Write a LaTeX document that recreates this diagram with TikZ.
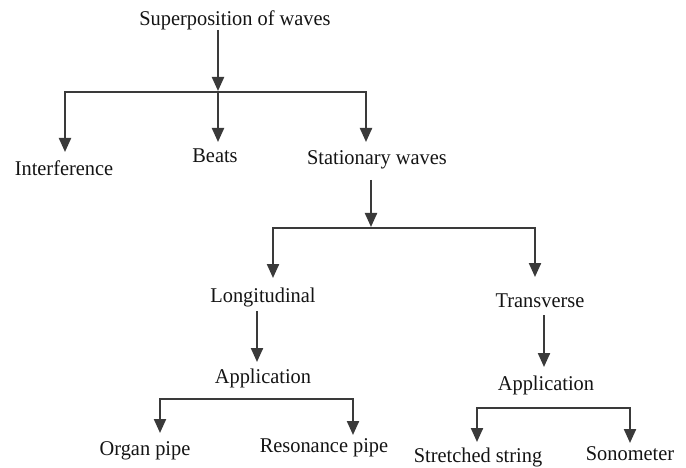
\documentclass[tikz,border=0pt]{standalone}
\usepackage{fontspec}
\setmainfont[FakeStretch=0.97]{Liberation Serif}
\usetikzlibrary{arrows.meta}
\definecolor{ink}{HTML}{141414}
\definecolor{linec}{HTML}{3A3A3A}
\tikzset{
  lbl/.style={anchor=base, inner sep=0pt, text=ink, font=\fontsize{21}{25}\selectfont},
  conn/.style={draw=linec, line width=2.2pt, line join=miter},
  tip/.style={-{Triangle[length=14pt,width=12pt]}},
  twotip/.style={{Triangle[length=14pt,width=12pt]}-{Triangle[length=14pt,width=12pt]}}
}
\begin{document}
\begin{tikzpicture}[x=1pt,y=-1pt]
\useasboundingbox (0,0) rectangle (686,468);
% nodes
\node[lbl] (sup) at (235,26) {Superposition of waves};
\node[lbl] (inter) at (64,176) {Interference};
\node[lbl] (beats) at (215,163) {Beats};
\node[lbl] (stat) at (377,165) {Stationary waves};
\node[lbl] (longi) at (263,302) {Longitudinal};
\node[lbl] (trans) at (540,307) {Transverse};
\node[lbl] (appl) at (263,383) {Application};
\node[lbl] (appr) at (546,390) {Application};
\node[lbl] (organ) at (145,455) {Organ pipe};
\node[lbl] (reson) at (324,452) {Resonance pipe};
\node[lbl] (stretch) at (478,462.5) {Stretched string};
\node[lbl] (sono) at (630,460) {Sonometer};
% junction and tip coordinates
\coordinate (s1) at (218,30);  \coordinate (j1) at (218,91);
\coordinate (b1a) at (65,92);  \coordinate (b1b) at (218,92); \coordinate (b1c) at (366,92);
\coordinate (t1a) at (65,152); \coordinate (t1b) at (218,142); \coordinate (t1c) at (366,142);
\coordinate (s2) at (371,180); \coordinate (j2) at (371,227);
\coordinate (b2a) at (273,228); \coordinate (b2c) at (535,228);
\coordinate (t2a) at (273,278); \coordinate (t2c) at (535,277);
\coordinate (s3) at (257,311); \coordinate (j3) at (257,362);
\coordinate (s4) at (544,315); \coordinate (j4) at (544,367);
\coordinate (b5a) at (160,399); \coordinate (b5c) at (353,399);
\coordinate (t5a) at (160,433); \coordinate (t5c) at (353,435);
\coordinate (b6a) at (477,408); \coordinate (b6c) at (630,408);
\coordinate (t6a) at (477,442); \coordinate (t6c) at (630,443);
% connectors
\draw[conn,tip] (s1) -- (j1);
\draw[conn,twotip] (t1a) -- (b1a) -- (b1c) -- (t1c);
\draw[conn,tip] (b1b) -- (t1b);
\draw[conn,tip] (s2) -- (j2);
\draw[conn,twotip] (t2a) -- (b2a) -- (b2c) -- (t2c);
\draw[conn,tip] (s3) -- (j3);
\draw[conn,tip] (s4) -- (j4);
\draw[conn,twotip] (t5a) -- (b5a) -- (b5c) -- (t5c);
\draw[conn,twotip] (t6a) -- (b6a) -- (b6c) -- (t6c);
\end{tikzpicture}
\end{document}
